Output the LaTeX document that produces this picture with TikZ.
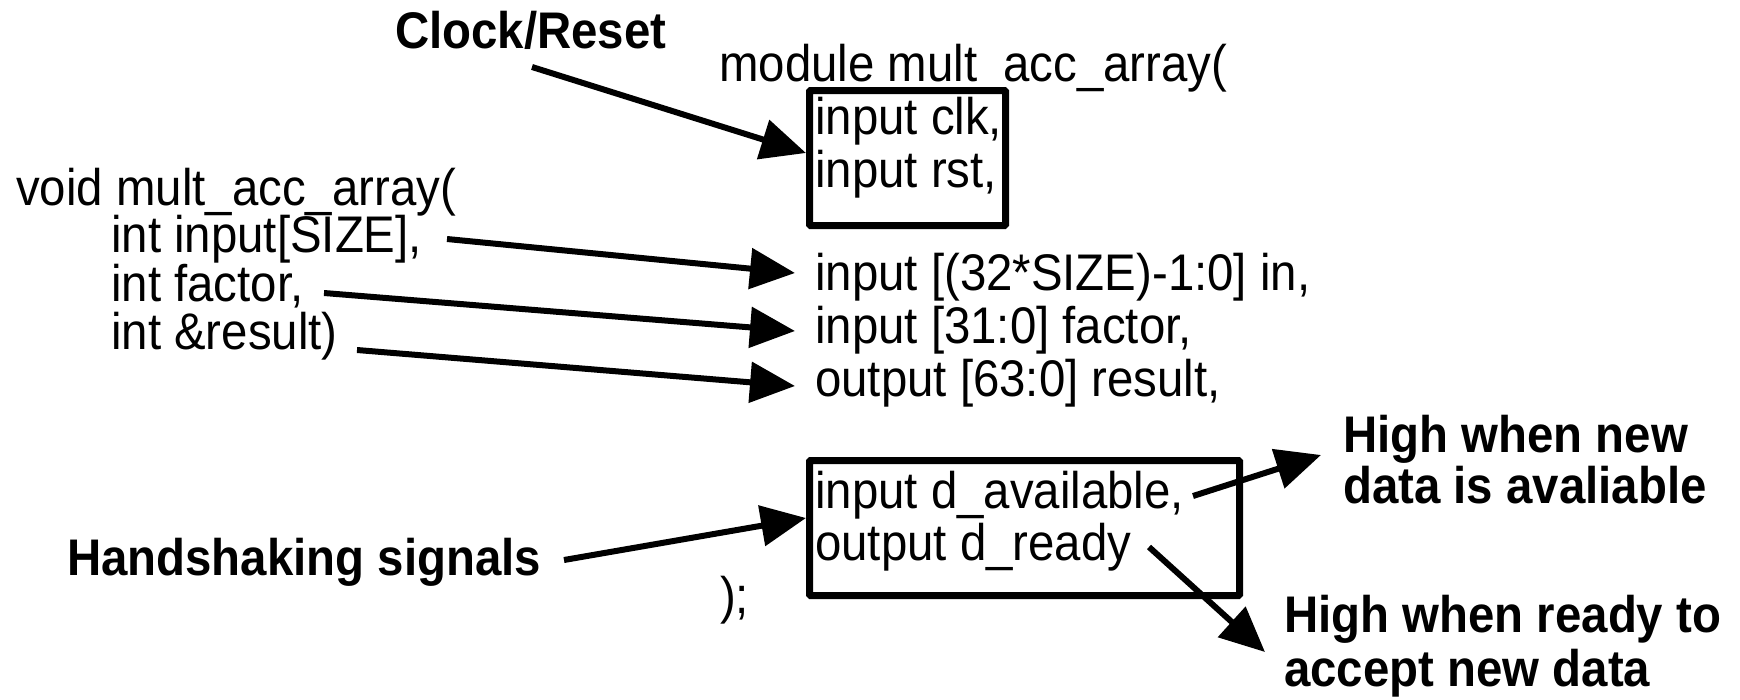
\documentclass[tikz,border=0pt]{standalone}
\usepackage{fontspec}
\setmainfont{Liberation Sans}
\newfontfamily\narrowsans[FakeStretch=0.92]{Liberation Sans}
\usetikzlibrary{arrows.meta}
\begin{document}
\begin{tikzpicture}[x=1pt,y=-1pt,
  txt/.style={anchor=base west, inner sep=0pt, font=\narrowsans\fontsize{51.5}{53}\selectfont},
  btxt/.style={anchor=base west, inner sep=0pt, font=\narrowsans\fontsize{51.5}{53}\selectfont\bfseries},
  sigbox/.style={draw, line width=7pt, rounded corners=1pt, anchor=north west, inner sep=0pt},
  arr/.style={line width=6pt, -{Triangle[length=45pt,width=40pt]}}]
\useasboundingbox (0,0) rectangle (1740,699);
% boxes
\node[sigbox, minimum width=196pt, minimum height=135pt] (box1) at (806,87) {};
\node[sigbox, minimum width=430pt, minimum height=135pt] (box2) at (806,457) {};
% C side
\node[txt] (cfun) at (16,205) {void mult\_acc\_array(};
\node[txt] (cin) at (111,252) {int input[SIZE],};
\node[txt] (cfac) at (111,301) {int factor,};
\node[txt] (cres) at (111,349) {int \&result)};
% Verilog side
\node[txt] (vmod) at (719,81) {module mult\_acc\_array(};
\node[txt] (vclk) at (815,134) {input clk,};
\node[txt] (vrst) at (815,187) {input rst,};
\node[txt] (vin) at (815,290) {input [(32*SIZE)-1:0] in,};
\node[txt] (vfac) at (815,343) {input [31:0] factor,};
\node[txt] (vres) at (815,396) {output [63:0] result,};
\node[txt] (vav) at (815,508) {input d\_available,};
\node[txt] (vrdy) at (815,560) {output d\_ready};
\node[txt] (vend) at (720,613) {);};
% labels
\node[btxt] (clock) at (395,48) {Clock/Reset};
\node[btxt] (hand) at (67,575) {Handshaking signals};
\node[btxt] (hnew1) at (1343,452) {High when new};
\node[btxt] (hnew2) at (1343,503) {data is avaliable};
\node[btxt] (hrdy1) at (1284,632) {High when ready to};
\node[btxt] (hrdy2) at (1284,686) {accept new data};
% arrow end points
\coordinate (clkS) at (532,67);
\coordinate (clkT) at (806,153);
\coordinate (inS) at (447,239);
\coordinate (inT) at (795,273);
\coordinate (facS) at (324,293);
\coordinate (facT) at (795,331);
\coordinate (resS) at (357,350);
\coordinate (resT) at (795,386);
\coordinate (hsS) at (564,560);
\coordinate (hsT) at (806,518);
\coordinate (avS) at (1193,496);
\coordinate (avT) at (1321,455);
\coordinate (rdS) at (1149,547);
\coordinate (rdT) at (1265,652);
\draw[arr] (clkS) -- (clkT);
\draw[arr] (inS) -- (inT);
\draw[arr] (facS) -- (facT);
\draw[arr] (resS) -- (resT);
\draw[arr] (hsS) -- (hsT);
\draw[arr] (avS) -- (avT);
\draw[arr] (rdS) -- (rdT);
\end{tikzpicture}
\end{document}
